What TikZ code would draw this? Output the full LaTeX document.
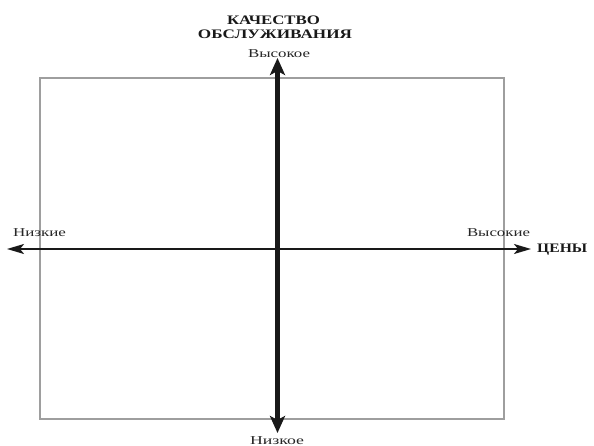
\documentclass[tikz,border=0pt]{standalone}
\usepackage{fontspec}
\setmainfont{Liberation Serif}
\usepackage{graphicx}
\usetikzlibrary{arrows.meta}
\newcommand\stretchto[2]{\resizebox{#1}{\height}{#2}}
\begin{document}
\begin{tikzpicture}[x=1pt,y=-1pt,
  frame/.style={draw=black!38, line width=1.3pt},
  harrow/.style={draw=black!90, line width=1.8pt,
    {Stealth[length=17pt,width=10pt,inset=4pt]}-{Stealth[length=17pt,width=10pt,inset=4pt]}},
  varrow/.style={draw=black!90, line width=4.2pt,
    {Stealth[length=17pt,width=15pt,inset=4pt]}-{Stealth[length=17pt,width=15pt,inset=4pt]}},
  lbl/.style={inner sep=0pt, text=black!85, font=\fontsize{12}{12}\selectfont},
  ttl/.style={inner sep=0pt, text=black!90, font=\fontsize{13}{13}\selectfont\bfseries}]
\useasboundingbox (0,0) rectangle (594,446);
\draw[frame] (40,78) rectangle (504,419);
\coordinate (L) at (7,249);
\coordinate (R) at (531,249);
\coordinate (T) at (277.5,58);
\coordinate (B) at (277.5,433);
\draw[harrow] (L) -- (R);
\draw[varrow] (B) -- (T);
\node[ttl] (t1) at (273.5,20.5) {\stretchto{93pt}{КАЧЕСТВО}};
\node[ttl] (t2) at (275,34) {\stretchto{154pt}{ОБСЛУЖИВАНИЯ}};
\node[lbl] (hi) at (279,53.5) {\stretchto{62pt}{Высокое}};
\node[lbl] (lo) at (277,441) {\stretchto{54pt}{Низкое}};
\node[lbl] (lp) at (39.5,233) {\stretchto{53pt}{Низкие}};
\node[lbl] (hp) at (498.5,233) {\stretchto{63pt}{Высокие}};
\node[ttl,anchor=base west] (pr) at (537,252.5) {\stretchto{50pt}{ЦЕНЫ}};
\end{tikzpicture}
\end{document}
